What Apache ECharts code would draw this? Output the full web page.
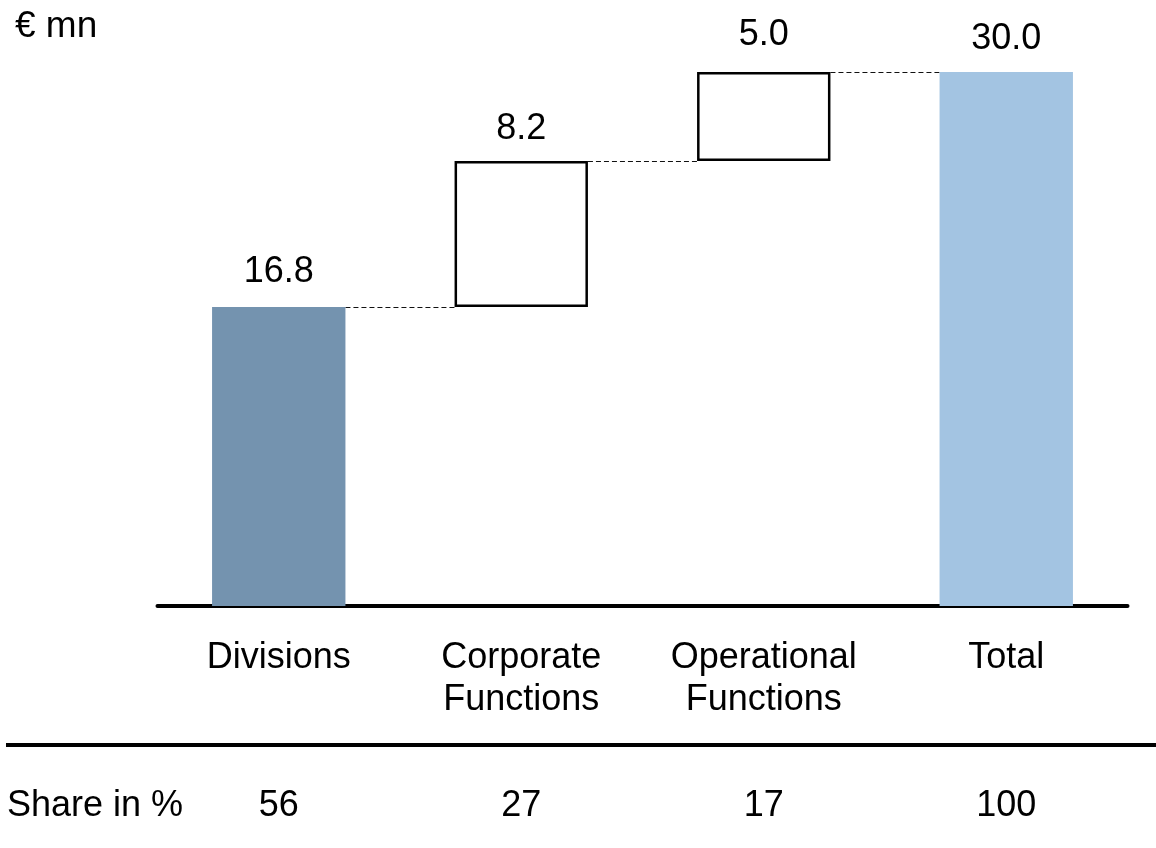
<!DOCTYPE html>
<html>
<head>
<meta charset="utf-8">
<script src="https://cdn.jsdelivr.net/npm/echarts@6/dist/echarts.min.js"></script>
<style>html,body{margin:0;padding:0;background:#fff;}#c{width:1156px;height:848px;}</style>
</head>
<body>
<div id="c"></div>
<script>
var categories = ['Divisions', 'Corporate\nFunctions', 'Operational\nFunctions', 'Total'];
var values = [16.8, 8.2, 5.0, 30.0];
var bases = [0, 16.8, 25.0, 0];
var shares = ['56', '27', '17', '100'];
var unitLabel = '€ mn';
var shareLabel = 'Share in %';

var FONT = '"Liberation Sans", Arial, sans-serif';
var barFill = ['#7493AF', '#FFFFFF', '#FFFFFF', '#A3C4E2'];
var barBorder = [0, 2.5, 2.5, 0];
var labelDist = [17, 14, 19, 15];
var BAR_RATIO = 0.55;

var chart = echarts.init(document.getElementById('c'), null, {renderer: 'canvas'});

var visibleData = values.map(function (v, i) {
  return {
    value: v,
    itemStyle: {
      color: barFill[i],
      borderColor: '#000',
      borderWidth: barBorder[i]
    },
    label: { distance: labelDist[i] }
  };
});

var connectors = [];
for (var i = 0; i < values.length - 1; i++) {
  connectors.push([i, bases[i] + values[i]]);
}

chart.setOption({
  animation: false,
  backgroundColor: '#fff',
  grid: { left: 157.5, right: 28.5, top: 72, bottom: 242, containLabel: false },
  xAxis: [{
    type: 'category',
    data: categories,
    position: 'bottom',
    axisLine: { show: true, onZero: false, lineStyle: { color: '#000', width: 4 } },
    axisTick: { show: false },
    axisLabel: {
      margin: 31, color: '#000', fontSize: 36, lineHeight: 42,
      fontFamily: FONT, interval: 0
    },
    splitLine: { show: false }
  }, {
    type: 'category',
    data: shares,
    position: 'bottom',
    offset: 170,
    axisLine: { show: false },
    axisTick: { show: false },
    axisLabel: { margin: 12, color: '#000', fontSize: 36, lineHeight: 36, fontFamily: FONT, interval: 0 },
    splitLine: { show: false }
  }],
  yAxis: {
    type: 'value', min: 0, max: 30, show: false,
    splitLine: { show: false }
  },
  series: [{
    type: 'bar',
    stack: 'w',
    barWidth: (BAR_RATIO * 100) + '%',
    data: bases,
    itemStyle: { color: 'transparent' },
    emphasis: { disabled: true },
    silent: true
  }, {
    type: 'bar',
    stack: 'w',
    barWidth: (BAR_RATIO * 100) + '%',
    data: visibleData,
    label: {
      show: true, position: 'top', color: '#000', fontSize: 36, lineHeight: 36,
      fontFamily: FONT,
      formatter: function (p) { return p.value.toFixed(1); }
    },
    z: 3
  }, {
    type: 'custom',
    data: connectors,
    z: 2,
    renderItem: function (params, api) {
      var idx = api.value(0);
      var yv = api.value(1);
      var p1 = api.coord([idx, yv]);
      var p2 = api.coord([idx + 1, yv]);
      var half = api.size([1, 0])[0] * BAR_RATIO / 2;
      var y = Math.round(p1[1]) + 0.5;
      return {
        type: 'line',
        shape: { x1: p1[0] + half, y1: y, x2: p2[0] - half, y2: y },
        style: { stroke: '#111', lineWidth: 1, lineDash: [5, 3] }
      };
    }
  }],
  graphic: [{
    type: 'text', left: 15, top: 8,
    style: { text: unitLabel, font: '37px ' + FONT, fill: '#000' }
  }, {
    type: 'line',
    shape: { x1: 6, y1: 745, x2: 1156, y2: 745 },
    style: { stroke: '#000', lineWidth: 4 }
  }, {
    type: 'text', left: 7, top: 788,
    style: { text: shareLabel, font: '36px ' + FONT, fill: '#000' }
  }]
});
</script>
</body>
</html>
